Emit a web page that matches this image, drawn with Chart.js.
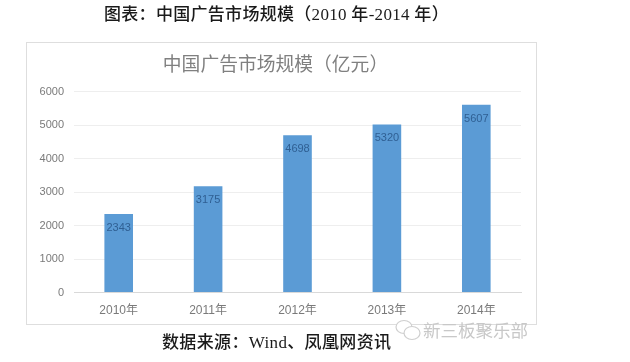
<!DOCTYPE html>
<html><head><meta charset="utf-8">
<script src="https://cdn.jsdelivr.net/npm/chart.js@4"></script>
<style>
html,body{margin:0;padding:0;background:#fff;width:630px;height:362px;overflow:hidden}
.t{position:absolute;white-space:nowrap;color:#1a1a1a}
#head{left:104px;top:5px;font-size:17px;font-weight:500;font-family:"Liberation Serif","Noto Sans CJK SC";line-height:20px;letter-spacing:.3px}
#src{left:162px;top:333px;font-size:17px;font-weight:500;font-family:"Liberation Serif","Noto Sans CJK SC";line-height:20px;letter-spacing:.35px}
#wm{left:423px;top:320px;font-size:17.5px;color:#c8c8c8;line-height:20px;font-family:"Noto Sans CJK SC"}
#icon{position:absolute;left:394px;top:317px}
#box{position:absolute;left:26px;top:42px;width:509px;height:281px;border:1px solid #dedede;box-sizing:content-box}
canvas{position:absolute;left:0;top:0;filter:blur(.5px)}
</style></head><body>
<div id="box"></div>
<canvas id="c" width="630" height="362"></canvas>
<div class="t" id="head">图表：中国广告市场规模（2010 年-2014 年）</div>
<div class="t" id="src">数据来源：Wind、凤凰网资讯</div>
<svg id="icon" width="28" height="28" viewBox="0 0 28 28" fill="#fff" stroke="#cfcfcf" stroke-width="1.2"><ellipse cx="10" cy="10" rx="8" ry="6.5"/><ellipse cx="18" cy="16" rx="8" ry="6.5"/></svg>
<div class="t" id="wm">新三板聚乐部</div>
<script>
const categories = ["2010年","2011年","2012年","2013年","2014年"];
const barValues = [2343,3175,4698,5020,5607];
const barLabels = ["2343","3175","4698","5320","5607"];
const chartTitle = "中国广告市场规模（亿元）";
const valueLabels = {
  id:"valueLabels",
  afterDatasetsDraw(chart){
    const c=chart.ctx, m=chart.getDatasetMeta(0);
    c.save();
    c.font='11px "Liberation Sans","Noto Sans CJK SC"';
    c.fillStyle="#2f5f93";c.textAlign="center";c.textBaseline="middle";
    m.data.forEach((b,i)=>c.fillText(barLabels[i],b.x,b.y+14));
    c.restore();
  }
};
new Chart(document.getElementById("c"),{
  type:"bar",
  data:{labels:categories,datasets:[{data:barValues,backgroundColor:"#5b9bd5",categoryPercentage:1,barPercentage:0.32}]},
  plugins:[valueLabels],
  options:{
    responsive:false,animation:false,
    layout:{padding:{left:30,right:109,top:53,bottom:41}},
    plugins:{legend:{display:false},tooltip:{enabled:false},
      title:{display:true,text:chartTitle,color:"#808080",
        font:{size:18.8,family:'"Noto Sans CJK SC"',weight:"normal"},padding:{top:0,bottom:16}}},
    scales:{
      x:{grid:{display:false},border:{color:"#d9d9d9"},
        ticks:{color:"#7a7a7a",font:{size:12,family:'"Liberation Sans","Noto Sans CJK SC"'},padding:3,maxRotation:0}},
      y:{min:0,max:6000,afterFit(s){s.width=44},
        grid:{color:"#eeeeee",drawTicks:false},border:{display:false},
        ticks:{stepSize:1000,color:"#7a7a7a",padding:10,callback:v=>String(v),font:{size:11,family:'"Liberation Sans"'}}}
    }
  }
});
</script></body></html>
